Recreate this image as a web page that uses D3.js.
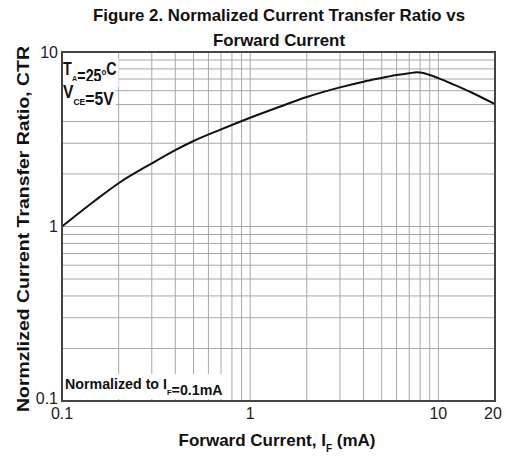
<!DOCTYPE html>
<html><head><meta charset="utf-8">
<script src="https://cdn.jsdelivr.net/npm/d3@7/dist/d3.min.js"></script>
<style>body{margin:0;background:#fff}svg{display:block}</style>
</head><body>
<svg id="chart" width="509" height="459"></svg>
<script>
// ---- data ----
const forwardCurrent = [0.1, 0.15, 0.2, 0.3, 0.4, 0.5, 0.7, 1, 1.5, 2, 3, 4, 5, 6, 7, 7.7, 8, 9, 10, 12, 15, 20];
const ctrValues      = [1.0, 1.41, 1.77, 2.30, 2.74, 3.09, 3.60, 4.20, 4.94, 5.52, 6.27, 6.76, 7.10, 7.38, 7.56, 7.65, 7.62, 7.38, 7.08, 6.52, 5.86, 5.02];
const xGridValues = [0.2,0.3,0.4,0.5,0.6,0.7,0.8,0.9,1,2,3,4,5,6,7,8,9,10];
const yGridValues = [0.2,0.3,0.4,0.5,0.6,0.7,0.8,0.9,1,2,3,4,5,6,7,8,9];
const xTickValues = [0.1, 1, 10, 20];
const xTickLabels = ["0.1", "1", "10", "20"];
const yTickValues = [0.1, 1, 10];
const yTickLabels = ["0.1", "1", "10"];

const svg = d3.select("#chart");
const FONT = "'Liberation Sans', Arial, sans-serif";
const L = 62, R = 495, T = 52, B = 401;
const x = d3.scaleLog().domain([0.1, 20]).range([L, R]);
const y = d3.scaleLog().domain([0.1, 10]).range([B, T]);

// grid
const g = svg.append("g");
g.selectAll(".vx").data(xGridValues).join("line")
  .attr("x1", d => x(d)).attr("x2", d => x(d)).attr("y1", T).attr("y2", B)
  .attr("stroke", "#a8a8a8").attr("stroke-width", 1);
g.selectAll(".hy").data(yGridValues).join("line")
  .attr("x1", L).attr("x2", R).attr("y1", d => y(d)).attr("y2", d => y(d))
  .attr("stroke", "#a8a8a8").attr("stroke-width", 1);

// curve
const line = d3.line().x(d => x(d[0])).y(d => y(d[1])).curve(d3.curveMonotoneX);
svg.append("path").datum(forwardCurrent.map((f, i) => [f, ctrValues[i]]))
  .attr("d", line).attr("fill", "none").attr("stroke", "#111").attr("stroke-width", 2);

// annotations with white backgrounds, horizontally condensed to match
function label(xp, yp, parts, size, subSize, subDy, targetW) {
  const grp = svg.append("g");
  const t = grp.append("text").attr("x", xp).attr("y", yp)
    .attr("font-family", FONT).attr("font-size", size).attr("font-weight", "bold").attr("fill", "#111");
  parts.forEach(p => {
    if (p.sub) {
      t.append("tspan").attr("font-size", subSize).attr("dy", subDy).text(p.sub);
      t.append("tspan").attr("dy", -subDy).text("");
    } else if (p.sup) {
      t.append("tspan").attr("font-size", size * 0.55).attr("dy", -7).text(p.sup);
      t.append("tspan").attr("dy", 7).text("");
    } else t.append("tspan").text(p.t);
  });
  const bb = t.node().getBBox();
  const k = targetW / bb.width;
  grp.insert("rect", "text").attr("x", bb.x - 2).attr("y", bb.y - 1).attr("width", bb.width + 4).attr("height", bb.height + 2)
    .attr("fill", "#fff");
  grp.attr("transform", `translate(${xp},0) scale(${k},1) translate(${-xp},0)`);
}
label(63, 75, [{t:"T"},{sub:"A"},{t:"=25"},{sup:"o"},{t:"C"}], 17.5, 9.5, 7, 54);
label(63, 98, [{t:"V"},{sub:"CE"},{t:"=5V"}], 17.5, 9.5, 7, 51);
label(65, 389, [{t:"Normalized to I"},{sub:"F"},{t:"=0.1mA"}], 15, 8, 6, 158);

// border
svg.append("rect").attr("x", L).attr("y", T).attr("width", R - L).attr("height", B - T)
  .attr("fill", "none").attr("stroke", "#444").attr("stroke-width", 2);

// tick labels
svg.selectAll(".xt").data(xTickValues).join("text")
  .attr("x", d => Math.min(x(d), 493)).attr("y", 419).attr("text-anchor", "middle")
  .attr("font-family", FONT).attr("font-size", 16).attr("fill", "#222")
  .text((d, i) => xTickLabels[i]);
svg.selectAll(".yt").data(yTickValues).join("text")
  .attr("x", L - 4).attr("y", d => y(d) + (d === 0.1 ? 3 : 5.5)).attr("text-anchor", "end")
  .attr("font-family", FONT).attr("font-size", 16).attr("fill", "#222")
  .text((d, i) => yTickLabels[i]);

// titles
const title = svg.append("text").attr("text-anchor", "middle").attr("font-family", FONT)
  .attr("font-weight", "bold").attr("font-size", 16.5).attr("fill", "#111");
title.append("tspan").attr("x", 279).attr("y", 21).attr("textLength", 372).attr("lengthAdjust", "spacingAndGlyphs")
  .text("Figure 2. Normalized Current Transfer Ratio vs");
title.append("tspan").attr("x", 279).attr("y", 46).attr("textLength", 132).attr("lengthAdjust", "spacingAndGlyphs")
  .text("Forward Current");

const xl = svg.append("text").attr("x", 277).attr("y", 446).attr("text-anchor", "middle")
  .attr("font-family", FONT).attr("font-weight", "bold").attr("font-size", 17).attr("fill", "#111");
xl.append("tspan").text("Forward Current, I");
xl.append("tspan").attr("font-size", 10).attr("dy", 6).text("F");
xl.append("tspan").attr("dy", -6).text(" (mA)");

svg.append("text").attr("transform", "translate(29,229) rotate(-90)").attr("text-anchor", "middle")
  .attr("font-family", FONT).attr("font-weight", "bold").attr("font-size", 17).attr("fill", "#111")
  .attr("textLength", 366).attr("lengthAdjust", "spacingAndGlyphs")
  .text("Normzlized Current Transfer Ratio, CTR");
</script>
</body></html>
